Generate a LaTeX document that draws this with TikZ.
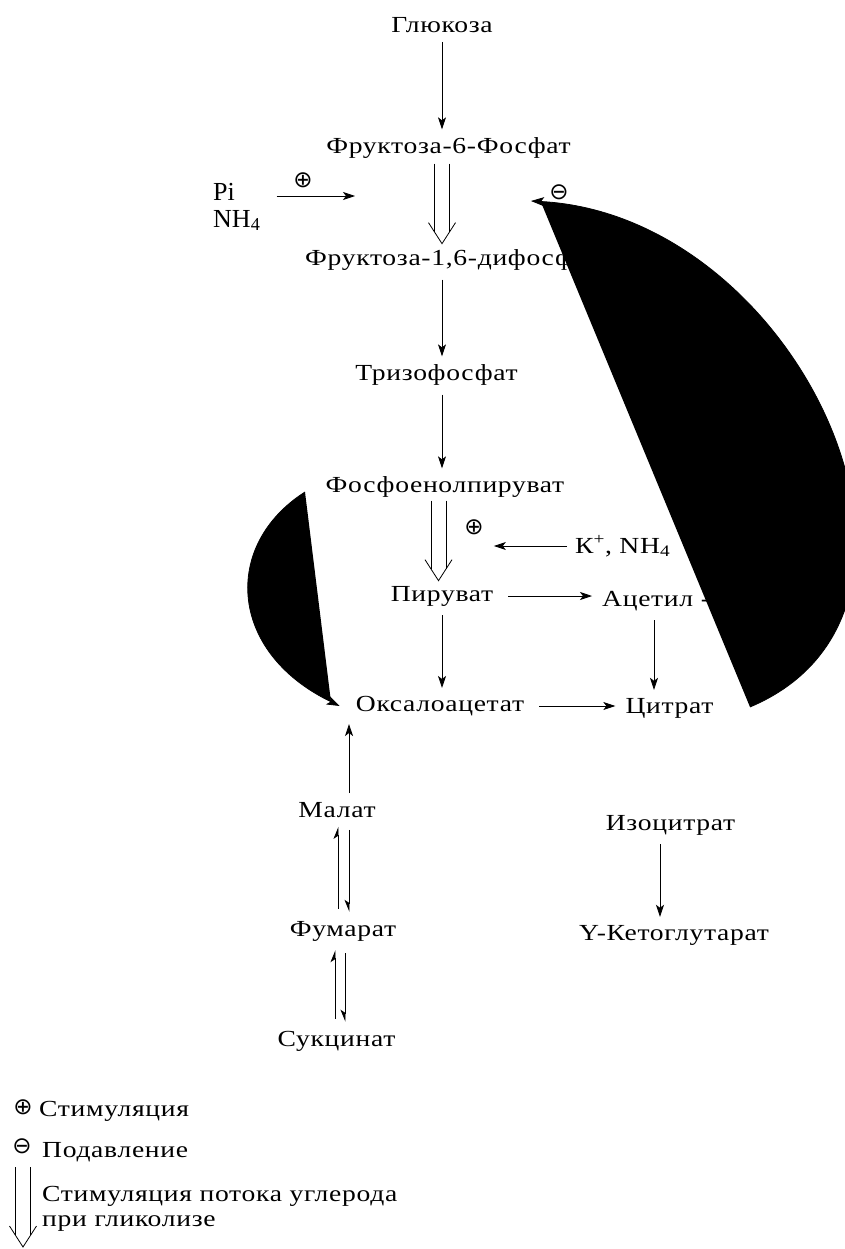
\documentclass[tikz,border=0pt]{standalone}
\usepackage{fontspec}
\setmainfont[FakeStretch=1.2,LetterSpace=3]{Liberation Serif}
\newfontfamily\latinfont{Liberation Serif}
\newfontfamily\symfont{DejaVu Sans}
\usetikzlibrary{arrows.meta,calc}

\tikzset{
  lbl/.style={inner sep=0pt, font=\fontsize{23}{25}\selectfont},
  sign/.style={inner sep=0pt, font=\symfont\fontsize{23}{23}\selectfont},
  arr/.style={-{Stealth[length=12pt,width=8pt,inset=3pt]}, line width=0.8pt,
    shorten <=9pt, shorten >=8pt},
  hshort/.style={shorten <=15pt, shorten >=10pt},
  harpup/.style={-{Stealth[harpoon,length=11pt,width=9pt,inset=3pt]}, line width=0.8pt,
    shorten <=12pt, shorten >=9pt},
  harpdown/.style={-{Stealth[harpoon,swap,length=11pt,width=9pt,inset=3pt]}, line width=0.8pt,
    shorten <=12pt, shorten >=9pt},
  blob/.style={-{Stealth[length=13pt,width=9pt,inset=3pt]}, line width=0.8pt, fill=black},
  flux/.pic={
    \draw[line width=0.8pt] (-7.5,0) -- (-7.5,68) (7.5,0) -- (7.5,68);
    \draw[line width=0.8pt] (-13.5,59) -- (0,80) -- (13.5,59);
  }
}

\begin{document}
\begin{tikzpicture}[x=1pt,y=-1pt]
\useasboundingbox (0,0) rectangle (844,1249);

% glycolysis column
\node[lbl] (glu) at (442,25) {Глюкоза};
\node[lbl] (f6p) at (448.5,148) {Фруктоза-6-Фосфат};
\node[lbl,anchor=west] (f16) at (305,260) {Фруктоза-1,6-дифосфат};
\node[lbl] (tri) at (436.5,375) {Тризофосфат};
\node[lbl] (pep) at (445,487) {Фосфоенолпируват};
\node[lbl] (pyr) at (442,596) {Пируват};
\node[lbl] (oxa) at (440,706) {Оксалоацетат};

% TCA side
\node[lbl,anchor=west] (acet) at (602,601) {Ацетил - КоА};
\node[lbl] (cit) at (669.5,708) {Цитрат};
\node[lbl] (iso) at (670.5,825) {Изоцитрат};
\node[lbl] (ket) at (674,935) {Y-Кетоглутарат};
\node[lbl] (mal) at (337,810) {Малат};
\node[lbl] (fum) at (343,931) {Фумарат};
\node[lbl] (suc) at (336.5,1041) {Сукцинат};

% effectors
\node[lbl,anchor=west,align=left,font=\latinfont\fontsize{26}{27}\selectfont]
  (pinh) at (213,207) {Pi\\NH\textsubscript{4}};
\node[sign] (plus1) at (303,180) {⊕};
\node[sign] (minus1) at (559,192) {⊖};
\node[sign] (plus2) at (474,527) {⊕};
\node[lbl,anchor=west] (kion) at (575,546) {К\textsuperscript{+}, NH\textsubscript{4}};
\coordinate (pfkIn) at (355,196);
\coordinate (pfkInh) at (531,201);

% main arrows
\draw[arr] (glu.south) -- (glu.south |- f6p.north);
\pic at ([yshift=-5pt]f6p.south -| glu.south) {flux};
\draw[arr] (f16.south -| glu.south) -- (tri.north -| glu.south);
\draw[arr] (tri.south -| glu.south) -- (pep.north -| glu.south);
\pic at ([xshift=-3.5pt,yshift=-3pt]pep.south -| pyr.north) {flux};
\draw[arr] (pyr.south) -- (pyr.south |- oxa.north);
\draw[arr,hshort] (pyr.east) -- (pyr.east -| acet.west);
\draw[arr,hshort] (oxa.east) -- (oxa.east -| cit.west);
\draw[arr] ([xshift=52pt]acet.south west) -- ([xshift=52pt]acet.south west |- cit.north);
\draw[arr] ([xshift=12pt]mal.north) -- ([xshift=12pt]mal.north |- oxa.south);
\draw[arr] ([xshift=-10.5pt]iso.south) -- ([xshift=-10.5pt]iso.south |- ket.north);

% reversible steps
\draw[harpup] ([xshift=-5pt]fum.north) -- ([xshift=-5pt]fum.north |- mal.south);
\draw[harpdown] ([xshift=6pt]fum.north |- mal.south) -- ([xshift=6pt]fum.north);
\draw[harpup] ([xshift=-1.5pt]suc.north) -- ([xshift=-1.5pt]suc.north |- fum.south);
\draw[harpdown] ([xshift=8.5pt]suc.north |- fum.south) -- ([xshift=8.5pt]suc.north);

% activators
\draw[arr,shorten <=0pt,shorten >=0pt] ([xshift=16pt]pinh.east |- pfkIn) -- (pfkIn);
\draw[arr,shorten <=0pt,shorten >=0pt] ([xshift=-8pt]kion.west) -- ([xshift=10pt]kion.west -| plus2.east);

% feedback loops
\draw[blob] (750,707) .. controls (980,610) and (800,215) .. (pfkInh);
\draw[blob] (305,492) .. controls (222,545) and (228,652) .. ([xshift=-16pt]oxa.west);

% legend
\node[sign] (plusL) at (23,1107) {⊕};
\node[lbl,anchor=west] (stim) at (39,1111) {Стимуляция};
\node[sign] (minusL) at (22,1146) {⊖};
\node[lbl,anchor=west] (supp) at (42,1152) {Подавление};
\node[lbl,anchor=north west,align=left] (fluxL) at (42,1186)
  {Стимуляция потока углерода\\при гликолизе};
\pic at (23,1167) {flux};

\end{tikzpicture}
\end{document}
